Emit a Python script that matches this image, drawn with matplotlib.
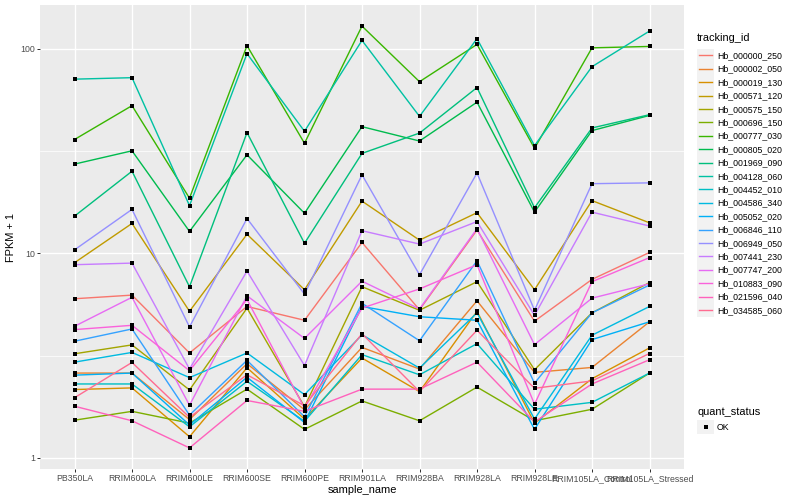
import matplotlib
matplotlib.use("Agg")
import matplotlib.pyplot as plt
import numpy as np
from matplotlib.legend_handler import HandlerBase
from matplotlib.patches import Rectangle
from matplotlib.lines import Line2D
from matplotlib.ticker import FixedLocator, NullFormatter

plt.rcParams['font.family'] = ['Liberation Sans', 'DejaVu Sans']

samples = ["PB350LA", "RRIM600LA", "RRIM600LE", "RRIM600SE", "RRIM600PE",
           "RRIM901LA", "RRIM928BA", "RRIM928LA", "RRIM928LE",
           "RRIM105LA_Control", "RRIM105LA_Stressed"]

tracking_ids = ["Hb_000000_250", "Hb_000002_050", "Hb_000019_130", "Hb_000571_120",
                "Hb_000575_150", "Hb_000696_150", "Hb_000777_030", "Hb_000805_020",
                "Hb_001969_090", "Hb_004128_060", "Hb_004452_010", "Hb_004586_340",
                "Hb_005052_020", "Hb_006846_110", "Hb_006949_050", "Hb_007441_230",
                "Hb_007747_200", "Hb_010883_090", "Hb_021596_040", "Hb_034585_060"]

# FPKM + 1 values per gene, in sample order
hb_000000_250 = [6.0, 6.25, 3.26, 5.5, 4.71, 11.3, 5.3, 13.0, 4.66, 7.46, 10.1]
hb_000002_050 = [2.60, 2.60, 1.54, 2.89, 1.72, 3.47, 2.72, 5.86, 2.62, 2.77, 4.63]
hb_000019_130 = [2.16, 2.20, 1.27, 2.76, 1.55, 3.08, 2.11, 5.21, 1.48, 2.44, 3.45]
hb_000571_120 = [9.0, 14.0, 5.21, 12.4, 6.64, 18.0, 11.6, 15.8, 6.64, 18.1, 14.1]
hb_000575_150 = [3.23, 3.57, 2.15, 5.4, 1.78, 6.87, 5.27, 7.27, 2.70, 5.12, 7.2]
hb_000696_150 = [1.53, 1.69, 1.48, 2.17, 1.38, 1.90, 1.52, 2.22, 1.52, 1.73, 2.60]
hb_000777_030 = [36.0, 52.7, 18.6, 103.5, 34.5, 129.0, 69.0, 105.0, 32.6, 101.0, 102.6]
hb_000805_020 = [27.3, 31.7, 12.8, 30.3, 15.7, 41.6, 35.4, 54.8, 15.9, 39.8, 47.2]
hb_001969_090 = [15.2, 25.2, 6.87, 38.9, 11.2, 30.8, 38.7, 64.6, 16.7, 41.0, 47.6]
hb_004128_060 = [71.0, 72.2, 17.1, 94.6, 39.5, 109.8, 46.7, 112.0, 33.6, 81.7, 122.0]
hb_004452_010 = [2.30, 2.30, 1.42, 2.37, 1.51, 3.20, 2.55, 3.62, 1.73, 1.87, 2.60]
hb_004586_340 = [2.94, 3.28, 2.47, 3.26, 2.04, 4.00, 2.75, 5.12, 1.55, 3.98, 5.5]
hb_005052_020 = [2.54, 2.60, 1.45, 2.48, 1.49, 5.5, 4.9, 4.71, 1.38, 3.79, 4.63]
hb_006846_110 = [3.72, 4.27, 1.62, 3.00, 1.59, 5.7, 3.74, 9.2, 2.32, 5.12, 7.0]
hb_006949_050 = [10.4, 16.4, 4.37, 14.8, 6.32, 24.2, 7.86, 24.7, 5.27, 21.9, 22.1]
hb_007441_230 = [8.8, 8.96, 2.72, 8.19, 2.83, 12.9, 11.1, 14.3, 4.98, 15.9, 13.6]
hb_007747_200 = [4.4, 6.1, 1.81, 6.2, 3.84, 7.31, 5.35, 13.2, 3.58, 6.04, 7.1]
hb_010883_090 = [4.24, 4.45, 2.67, 5.95, 1.75, 5.4, 6.7, 8.8, 1.83, 7.27, 9.53]
hb_021596_040 = [1.79, 1.52, 1.12, 1.91, 1.69, 2.17, 2.17, 2.94, 1.50, 2.30, 3.02]
hb_034585_060 = [1.97, 2.93, 1.58, 2.55, 1.80, 4.05, 2.11, 4.21, 2.19, 2.38, 3.24]

series = [hb_000000_250, hb_000002_050, hb_000019_130, hb_000571_120, hb_000575_150,
          hb_000696_150, hb_000777_030, hb_000805_020, hb_001969_090, hb_004128_060,
          hb_004452_010, hb_004586_340, hb_005052_020, hb_006846_110, hb_006949_050,
          hb_007441_230, hb_007747_200, hb_010883_090, hb_021596_040, hb_034585_060]

quant_status = ["OK"]

colors = ["#F8766D", "#EA8331", "#D89000", "#C09B00", "#A3A500", "#7CAE00", "#39B600",
          "#00BB4E", "#00BF7D", "#00C1A3", "#00BFC4", "#00BAE0", "#00B0F6", "#35A2FF",
          "#9590FF", "#C77CFF", "#E76BF3", "#FA62DB", "#FF62BC", "#FF6C91"]

W, H = 800, 500
fig = plt.figure(figsize=(W / 100, H / 100), dpi=100)
px = 0.72  # points per pixel
left, right, top, bottom = 40, 684, 5, 469
ax = fig.add_axes([left / W, 1 - bottom / H, (right - left) / W, (bottom - top) / H])

x = np.arange(len(samples))
lines = []
for vals, col in zip(series, colors):
    ln, = ax.plot(x, vals, color=col, lw=1.4 * px, zorder=2, solid_capstyle='butt')
    lines.append(ln)
for vals in series:
    ax.plot(x, vals, ls='none', marker='s', ms=3.6 * px, color='black',
            markeredgewidth=0, zorder=3)

ax.set_yscale('log')
allv = np.log10(np.concatenate([np.asarray(s) for s in series]))
lo, hi = allv.min(), allv.max()
pad = 0.05 * (hi - lo)
ax.set_ylim(10 ** (lo - pad), 10 ** (hi + pad))
ax.set_xlim(-0.6, len(samples) - 1 + 0.6)

ax.set_facecolor('#EBEBEB')
for s in ax.spines.values():
    s.set_visible(False)

ax.set_xticks(x)
ax.set_xticklabels(samples)
ax.set_yticks([1, 10, 100])
ax.set_yticklabels(['1', '10', '100'])
ax.yaxis.set_minor_locator(FixedLocator([10 ** 0.5, 10 ** 1.5]))
ax.yaxis.set_minor_formatter(NullFormatter())
ax.xaxis.set_minor_locator(FixedLocator([]))
ax.tick_params(which='minor', length=0)
ax.tick_params(which='major', length=2.7 * px, width=1.0 * px, color='#333333',
               labelcolor='#4D4D4D', labelsize=8.8 * px, pad=2.2 * px)
ax.grid(which='major', color='white', lw=1.4 * px)
ax.grid(which='minor', axis='y', color='white', lw=0.7 * px)
ax.set_axisbelow(True)

ax.set_xlabel('sample_name', fontsize=11 * px, color='black', labelpad=2.5 * px)
ax.set_ylabel('FPKM + 1', fontsize=11 * px, color='black', labelpad=4 * px)


class KeyHandler(HandlerBase):
    def __init__(self, point=False):
        super().__init__()
        self.point = point

    def create_artists(self, legend, orig_handle, xdescent, ydescent, width, height,
                       fontsize, trans):
        rect = Rectangle((-xdescent, -ydescent), width, height, facecolor='#F2F2F2',
                         edgecolor='none', transform=trans)
        cy = -ydescent + height / 2
        if self.point:
            art = Line2D([-xdescent + width / 2], [cy], ls='none', marker='s',
                         ms=3.6 * px, color='black', markeredgewidth=0, transform=trans)
        else:
            art = Line2D([-xdescent + 0.1 * width, -xdescent + 0.9 * width], [cy, cy],
                         color=orig_handle.get_color(), lw=1.4 * px, transform=trans)
        return [rect, art]


fs = 8.8 * px
fs_px = 8.8
key_px = 17.3

fig.text(697 / W, 1 - 38 / H, 'tracking_id', fontsize=11 * px, va='center', ha='left')
leg1 = fig.legend(handles=lines, labels=tracking_ids, loc='upper left',
                  bbox_to_anchor=(697 / W, 1 - 48.6 / H), frameon=False, fontsize=fs,
                  handlelength=17.0 / fs_px, handleheight=key_px / fs_px, labelspacing=0.0,
                  handletextpad=3.0 / fs_px, borderpad=0, borderaxespad=0,
                  handler_map={Line2D: KeyHandler()})

fig.text(697 / W, 1 - 412 / H, 'quant_status', fontsize=11 * px, va='center', ha='left')
ok_handle = Line2D([], [], ls='none', marker='s', color='black')
leg2 = fig.legend(handles=[ok_handle], labels=quant_status, loc='upper left',
                  bbox_to_anchor=(697 / W, 1 - 420.5 / H), frameon=False, fontsize=fs,
                  handlelength=17.0 / fs_px, handleheight=key_px / fs_px, labelspacing=0.0,
                  handletextpad=3.0 / fs_px, borderpad=0, borderaxespad=0,
                  handler_map={Line2D: KeyHandler(point=True)})

fig.savefig('out.png', dpi=100, facecolor='white')
